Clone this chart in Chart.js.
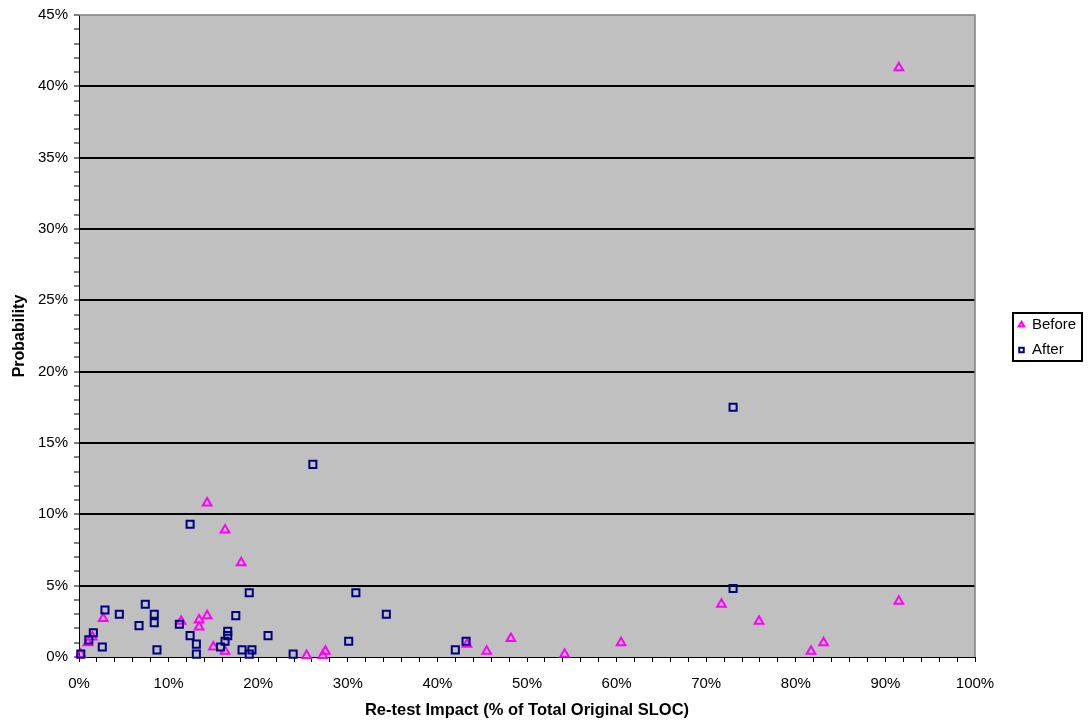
<!DOCTYPE html>
<html>
<head>
<meta charset="utf-8">
<script src="https://cdn.jsdelivr.net/npm/chart.js@4"></script>
<style>
  html, body { margin: 0; background: #fff; }
</style>
</head>
<body>
<canvas id="myChart" width="1089" height="723"></canvas>
<script>
// Re-test impact (% of total SLOC) vs probability, before and after
const beforeX = [91.5, 91.5, 14.3, 16.3, 18.1, 71.7, 75.9, 14.3, 13.4, 13.4, 11.4, 2.7, 1.5, 1.0, 15.0, 16.3, 0.2, 25.4, 27.5, 27.2, 43.3, 45.5, 48.2, 60.5, 54.2, 81.7, 83.1];
const beforeY = [41.3, 3.9, 10.8, 8.9, 6.6, 3.7, 2.5, 2.9, 2.6, 2.1, 2.5, 2.7, 1.4, 1.0, 0.7, 0.4, 0.2, 0.1, 0.4, 0.1, 0.9, 0.4, 1.3, 1.0, 0.2, 0.4, 1.0];

const afterX = [73.0, 73.0, 26.1, 12.4, 19.0, 30.9, 34.3, 2.9, 4.5, 7.4, 8.4, 8.4, 6.7, 11.2, 17.5, 1.6, 1.1, 2.6, 12.4, 13.1, 13.1, 8.7, 16.6, 16.6, 16.3, 15.8, 18.2, 19.3, 19.0, 21.1, 0.2, 23.9, 30.1, 42.0, 43.2];
const afterY = [17.5, 4.8, 13.5, 9.3, 4.5, 4.5, 3.0, 3.3, 3.0, 3.7, 3.0, 2.4, 2.2, 2.3, 2.9, 1.7, 1.2, 0.7, 1.5, 0.9, 0.2, 0.5, 1.8, 1.5, 1.1, 0.7, 0.5, 0.5, 0.2, 1.5, 0.2, 0.2, 1.1, 0.5, 1.1];

const seriesNames = ['Before', 'After'];
const xTitle = 'Re-test Impact (% of Total Original SLOC)';
const yTitle = 'Probability';

const FONT = '"Liberation Sans", Arial, sans-serif';

let toPoints = function (xs, ys) {
    return xs.map((x, i) => ({ x: x, y: ys[i] }));
};

// grey plot area plus the thin grey frame on top and right
const plotFrame = {
    id: 'plotFrame',
    beforeDraw(chart) {
        const { ctx, chartArea: a } = chart;
        ctx.save();
        ctx.fillStyle = '#C0C0C0';
        ctx.fillRect(a.left, a.top, a.right - a.left, a.bottom - a.top);
        ctx.restore();
    },
    beforeDatasetsDraw(chart) {
        const { ctx, chartArea: a } = chart;
        ctx.save();
        ctx.strokeStyle = '#808080';
        ctx.lineWidth = 1.5;
        ctx.beginPath();
        ctx.moveTo(a.left, a.top);
        ctx.lineTo(a.right, a.top);
        ctx.lineTo(a.right, a.bottom);
        ctx.stroke();
        ctx.restore();
    }
};

// boxed legend to the right of the plot
const boxLegend = {
    id: 'boxLegend',
    afterDraw(chart) {
        const { ctx, chartArea: a } = chart;
        const left = a.right + 38;
        const top = 313;
        ctx.save();
        ctx.strokeStyle = '#000';
        ctx.lineWidth = 2;
        ctx.strokeRect(left, top, 69, 48);
        ctx.font = '15px ' + FONT;
        ctx.textBaseline = 'middle';
        chart.data.datasets.forEach((ds, i) => {
            const y = top + 12 + i * 25;
            ctx.strokeStyle = ds.borderColor;
            ctx.fillStyle = 'rgba(0,0,0,0)';
            ctx.lineWidth = 2;
            Chart.helpers.drawPoint(ctx, {
                pointStyle: ds.pointStyle, radius: 3.2, rotation: 0, borderWidth: 2
            }, left + 8.5, y);
            ctx.fillStyle = '#000';
            ctx.fillText(ds.label, left + 19, y);
        });
        ctx.restore();
    }
};

const data = {
    datasets: [{
        label: seriesNames[0],
        data: toPoints(beforeX, beforeY),
        pointStyle: 'triangle',
        borderColor: '#FF00FF',
        backgroundColor: 'rgba(0,0,0,0)',
        borderWidth: 2,
        pointRadius: 5,
        pointHoverRadius: 5,
        order: 1,
        clip: false
    }, {
        label: seriesNames[1],
        data: toPoints(afterX, afterY),
        pointStyle: 'rect',
        borderColor: '#000080',
        backgroundColor: 'rgba(0,0,0,0)',
        borderWidth: 2,
        pointRadius: 5,
        pointHoverRadius: 5,
        order: 0,
        clip: false
    }]
};

const config = {
    type: 'scatter',
    data: data,
    options: {
        responsive: false,
        animation: false,
        layout: { padding: { top: 14, right: 114, left: 0, bottom: 0 } },
        plugins: {
            legend: { display: false },
            tooltip: { enabled: false }
        },
        scales: {
            x: {
                type: 'linear',
                min: 0,
                max: 100,
                afterFit: (scale) => { scale.height = 66; },
                border: { color: '#000', width: 1 },
                grid: {
                    drawOnChartArea: false,
                    drawTicks: true,
                    tickLength: 5,
                    tickColor: '#000'
                },
                ticks: {
                    stepSize: 2,
                    autoSkip: false,
                    maxRotation: 0,
                    padding: 13,
                    color: '#000',
                    font: { family: FONT, size: 15 },
                    callback: (v) => (Math.round(v) % 10 === 0 ? Math.round(v) + '%' : '')
                },
                title: {
                    display: true,
                    text: xTitle,
                    color: '#000',
                    font: { family: FONT, size: 16.5, weight: 'bold' },
                    padding: { top: 0, bottom: 3 }
                }
            },
            y: {
                type: 'linear',
                min: 0,
                max: 45,
                afterFit: (scale) => { scale.width = 79; },
                border: { color: '#000', width: 1 },
                grid: {
                    lineWidth: 2,
                    color: (c) => {
                        const v = c.tick ? Math.round(c.tick.value) : 0;
                        return (v % 5 === 0 && v > 0 && v < 45) ? '#000' : 'rgba(0,0,0,0)';
                    },
                    tickLength: 5,
                    tickColor: '#000',
                    tickWidth: 1
                },
                ticks: {
                    stepSize: 1,
                    autoSkip: false,
                    padding: 6,
                    color: '#000',
                    font: { family: FONT, size: 15 },
                    callback: (v) => (Math.round(v) % 5 === 0 ? Math.round(v) + '%' : '')
                },
                title: {
                    display: true,
                    text: yTitle,
                    color: '#000',
                    font: { family: FONT, size: 16, weight: 'bold' },
                    padding: { top: 10, bottom: 0 }
                }
            }
        }
    },
    plugins: [plotFrame, boxLegend]
};

const myChart = new Chart(document.getElementById('myChart'), config);
</script>
</body>
</html>
